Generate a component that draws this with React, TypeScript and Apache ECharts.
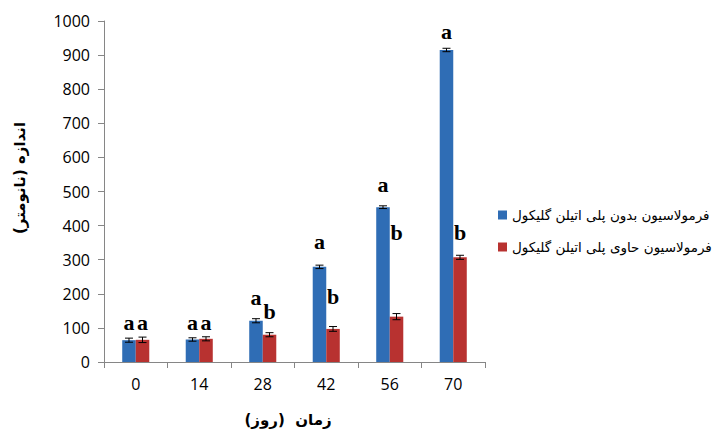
import React, { useEffect, useRef } from "react";
import * as echarts from "echarts";

const categories = ["0", "14", "28", "42", "56", "70"];
const seriesNames = [
  "فرمولاسیون بدون پلی اتیلن گلیکول",
  "فرمولاسیون حاوی پلی اتیلن گلیکول",
];
const yTitle = "اندازه (نانومتر)";
const xTitle = "زمان  (روز)";
const blueValues = [64, 66, 121, 279, 454, 915];
const redValues = [65, 68, 80, 97, 133, 307];
const blueErrors = [6, 5, 6, 5, 4, 5];
const redErrors = [8, 6, 6, 7, 9, 6];
const blueLetters = ["a", "a", "a", "a", "a", "a"];
const redLetters = ["a", "a", "b", "b", "b", "b"];
const blueLetterAt = [116, 116, 189, 353, 520, 969];
const redLetterAt = [116, 116, 148, 193, 380, 380];

const BLUE = "#2F6DB5";
const RED = "#B83230";
const BAR_FRAC = 0.213;

function errorSeries(values: number[], errors: number[], side: number) {
  return {
    type: "custom",
    silent: true,
    z: 5,
    data: values.map((v, i) => [i, v, errors[i]]),
    renderItem: (params: any, api: any) => {
      const cat = api.value(0);
      const val = api.value(1);
      const err = api.value(2);
      const band = api.size([1, 0])[0];
      const off = side * band * BAR_FRAC * 0.5;
      const top = api.coord([cat, val + err]);
      const bot = api.coord([cat, val - err]);
      const x = top[0] + off;
      const cap = 4;
      const style = { stroke: "#000", lineWidth: 1 };
      return {
        type: "group",
        children: [
          { type: "line", shape: { x1: x, y1: top[1], x2: x, y2: bot[1] }, style },
          { type: "line", shape: { x1: x - cap, y1: top[1], x2: x + cap, y2: top[1] }, style },
          { type: "line", shape: { x1: x - cap, y1: bot[1], x2: x + cap, y2: bot[1] }, style },
        ],
      };
    },
  };
}

function letterSeries(letters: string[], at: number[], side: number) {
  return {
    type: "custom",
    silent: true,
    z: 6,
    data: at.map((v, i) => [i, v]),
    renderItem: (params: any, api: any) => {
      const cat = api.value(0);
      const val = api.value(1);
      const band = api.size([1, 0])[0];
      const off = side * band * BAR_FRAC * 0.5;
      const p = api.coord([cat, val]);
      return {
        type: "text",
        x: p[0] + off,
        y: p[1],
        style: {
          text: letters[params.dataIndex],
          fill: "#000",
          fontFamily: "'Liberation Serif', 'DejaVu Serif', serif",
          fontWeight: "bold",
          fontSize: 22,
          align: "center",
          verticalAlign: "middle",
        },
      };
    },
  };
}

export default function App() {
  const ref = useRef<HTMLDivElement>(null);
  useEffect(() => {
    if (!ref.current) return;
    const chart = echarts.init(ref.current, undefined, { renderer: "svg" });
    chart.setOption({
      animation: false,
      backgroundColor: "#fff",
      grid: { left: 104, right: 228, top: 21, bottom: 70 },
      legend: {
        orient: "vertical",
        left: 493,
        top: 203,
        itemWidth: 9,
        itemHeight: 9,
        itemGap: 18,
        icon: "rect",
        textStyle: {
          fontFamily: "'DejaVu Sans', 'Noto Sans', sans-serif",
          fontSize: 13.5,
          color: "#000",
        },
        data: seriesNames,
      },
      graphic: [
        {
          type: "text",
          x: 20,
          y: 178,
          rotation: Math.PI / 2,
          style: {
            text: yTitle,
            fill: "#000",
            fontFamily: "'DejaVu Sans', sans-serif",
            fontWeight: "bold",
            fontSize: 15,
            align: "center",
            verticalAlign: "middle",
          },
        },
        {
          type: "text",
          x: 288,
          y: 420,
          style: {
            text: xTitle,
            fill: "#000",
            fontFamily: "'DejaVu Sans', sans-serif",
            fontWeight: "bold",
            fontSize: 15,
            align: "center",
            verticalAlign: "middle",
          },
        },
      ],
      xAxis: {
        type: "category",
        data: categories,
        axisLine: { lineStyle: { color: "#868686", width: 1 } },
        axisTick: { show: true, length: 6, lineStyle: { color: "#868686" } },
        axisLabel: {
          color: "#000",
          fontSize: 16,
          margin: 14,
          fontFamily: "'Open Sans', 'DejaVu Sans', sans-serif",
        },
      },
      yAxis: {
        type: "value",
        min: 0,
        max: 1000,
        interval: 100,
        splitLine: { show: false },
        axisLine: { show: true, lineStyle: { color: "#868686", width: 1 } },
        axisTick: { show: true, length: 6, lineStyle: { color: "#868686" } },
        axisLabel: {
          color: "#000",
          fontSize: 16,
          margin: 14,
          fontFamily: "'Open Sans', 'DejaVu Sans', sans-serif",
          formatter: (v: number) => String(v),
        },
      },
      series: [
        {
          name: seriesNames[0],
          type: "bar",
          data: blueValues,
          barWidth: BAR_FRAC * 100 + "%",
          barGap: "0%",
          itemStyle: { color: BLUE },
        },
        {
          name: seriesNames[1],
          type: "bar",
          data: redValues,
          barWidth: BAR_FRAC * 100 + "%",
          barGap: "0%",
          itemStyle: { color: RED },
        },
        errorSeries(blueValues, blueErrors, -1),
        errorSeries(redValues, redErrors, 1),
        letterSeries(blueLetters, blueLetterAt, -1),
        letterSeries(redLetters, redLetterAt, 1),
      ],
    });
    return () => chart.dispose();
  }, []);
  return <div ref={ref} style={{ width: 713, height: 432, position: "absolute", left: 0, top: 0 }} />;
}
